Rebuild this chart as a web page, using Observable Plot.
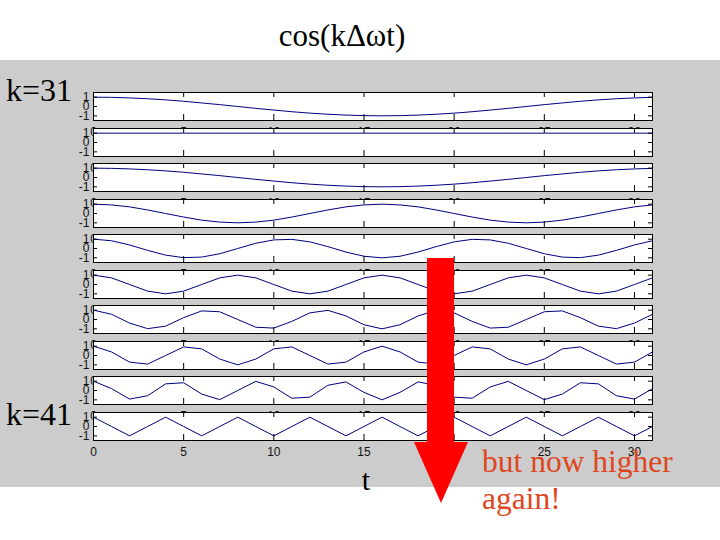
<!DOCTYPE html>
<html><head><meta charset="utf-8">
<script src="https://cdn.jsdelivr.net/npm/d3@7"></script>
<script src="https://cdn.jsdelivr.net/npm/@observablehq/plot@0.6"></script>
<style>
html,body{margin:0;padding:0;background:#fff;}
#wrap{position:relative;width:720px;height:540px;overflow:hidden;background:#fff;}
#gray{position:absolute;left:0;top:60px;width:720px;height:427px;background:#cccccc;}
.row{position:absolute;left:0;}
#overlay{position:absolute;left:0;top:0;}
</style></head><body>
<div id="wrap"><div id="gray"></div></div>
<script>
// ---- data ----
const t = [0,1,2,3,4,5,6,7,8,9,10,11,12,13,14,15,16,17,18,19,20,21,22,23,24,25,26,27,28,29,30,31];
const kValues = [31,32,33,34,35,36,37,38,39,40];
const k31 = [1,0.98,0.92,0.83,0.71,0.56,0.38,0.2,0,-0.2,-0.38,-0.56,-0.71,-0.83,-0.92,-0.98,-1,-0.98,-0.92,-0.83,-0.71,-0.56,-0.38,-0.2,0,0.2,0.38,0.56,0.71,0.83,0.92,0.98];
const k32 = [1,1,1,1,1,1,1,1,1,1,1,1,1,1,1,1,1,1,1,1,1,1,1,1,1,1,1,1,1,1,1,1];
const k33 = [1,0.98,0.92,0.83,0.71,0.56,0.38,0.2,0,-0.2,-0.38,-0.56,-0.71,-0.83,-0.92,-0.98,-1,-0.98,-0.92,-0.83,-0.71,-0.56,-0.38,-0.2,0,0.2,0.38,0.56,0.71,0.83,0.92,0.98];
const k34 = [1,0.92,0.71,0.38,0,-0.38,-0.71,-0.92,-1,-0.92,-0.71,-0.38,0,0.38,0.71,0.92,1,0.92,0.71,0.38,0,-0.38,-0.71,-0.92,-1,-0.92,-0.71,-0.38,0,0.38,0.71,0.92];
const k35 = [1,0.83,0.38,-0.2,-0.71,-0.98,-0.92,-0.56,0,0.56,0.92,0.98,0.71,0.2,-0.38,-0.83,-1,-0.83,-0.38,0.2,0.71,0.98,0.92,0.56,0,-0.56,-0.92,-0.98,-0.71,-0.2,0.38,0.83];
const k36 = [1,0.71,0,-0.71,-1,-0.71,0,0.71,1,0.71,0,-0.71,-1,-0.71,0,0.71,1,0.71,0,-0.71,-1,-0.71,0,0.71,1,0.71,0,-0.71,-1,-0.71,0,0.71];
const k37 = [1,0.56,-0.38,-0.98,-0.71,0.2,0.92,0.83,0,-0.83,-0.92,-0.2,0.71,0.98,0.38,-0.56,-1,-0.56,0.38,0.98,0.71,-0.2,-0.92,-0.83,0,0.83,0.92,0.2,-0.71,-0.98,-0.38,0.56];
const k38 = [1,0.38,-0.71,-0.92,0,0.92,0.71,-0.38,-1,-0.38,0.71,0.92,0,-0.92,-0.71,0.38,1,0.38,-0.71,-0.92,0,0.92,0.71,-0.38,-1,-0.38,0.71,0.92,0,-0.92,-0.71,0.38];
const k39 = [1,0.2,-0.92,-0.56,0.71,0.83,-0.38,-0.98,0,0.98,0.38,-0.83,-0.71,0.56,0.92,-0.2,-1,-0.2,0.92,0.56,-0.71,-0.83,0.38,0.98,0,-0.98,-0.38,0.83,0.71,-0.56,-0.92,0.2];
const k40 = [1,0,-1,0,1,0,-1,0,1,0,-1,0,1,0,-1,0,1,0,-1,0,1,0,-1,0,1,0,-1,0,1,0,-1,0];
const seriesList = [k31,k32,k33,k34,k35,k36,k37,k38,k39,k40];
const xTicks = [0,5,10,15,20,25,30];
const yTicks = [-1,0,1];
const titleText = "cos(kΔωt)";
const topLabel = "k=31", bottomLabel = "k=41";
const xLabel = "t";
const note1 = "but now higher", note2 = "again!";

// ---- layout ----
const wrap = document.getElementById("wrap");
const W = 720, mL = 93, mR = 68, frameH = 28, mT = 2, mB = 26;
const innerW = W - mL - mR;
seriesList.forEach((vals, i) => {
  const data = t.map((tt, j) => ({t: tt, v: vals[j]}));
  const svg = Plot.plot({
    width: W, height: frameH + mT + mB,
    marginLeft: mL, marginRight: mR, marginTop: mT, marginBottom: mB,
    style: {background: "transparent", fontFamily: "'Liberation Sans', Arial, sans-serif", fontSize: "12px", color: "#111", overflow: "visible"},
    x: {domain: [0, 31], label: null},
    y: {domain: [-1.5, 1.5], label: null},
    marks: [
      Plot.frame({fill: "white", stroke: null}),
      Plot.line(data, {x: "t", y: "v", stroke: "#000080", strokeWidth: 1}),
      Plot.tickX(xTicks, {x: d => d, insetTop: frameH - 6, stroke: "black"}),
      Plot.tickX(xTicks, {x: d => d, insetBottom: frameH - 5, stroke: "black"}),
      Plot.tickY(yTicks, {y: d => d, insetRight: innerW - 4, stroke: "black"}),
      Plot.tickY(yTicks, {y: d => d, insetLeft: innerW - 4, stroke: "black"}),
      Plot.frame({stroke: "black", fill: null}),
      Plot.axisX(xTicks, {tickSize: 0, tickPadding: 7, fontSize: 12, tickFormat: d => String(d)}),
      Plot.axisY(yTicks, {tickSize: 0, tickPadding: 4, fontSize: 12, tickFormat: d => String(d)})
    ]
  });
  svg.classList.add("row");
  svg.style.position = "absolute";
  svg.style.left = "0px";
  svg.style.top = (Math.round(92 + 35.55 * i) - mT) + "px";
  wrap.appendChild(svg);
});

// ---- annotations overlay ----
const ns = "http://www.w3.org/2000/svg";
const ov = document.createElementNS(ns, "svg");
ov.setAttribute("id", "overlay");
ov.setAttribute("width", 720); ov.setAttribute("height", 540);
ov.style.position = "absolute"; ov.style.left = "0"; ov.style.top = "0";
function txt(s, x, y, size, fill, anchor) {
  const e = document.createElementNS(ns, "text");
  e.setAttribute("x", x); e.setAttribute("y", y);
  e.setAttribute("font-family", "'Liberation Serif', 'Times New Roman', serif");
  e.setAttribute("font-size", size);
  e.setAttribute("fill", fill);
  if (anchor) e.setAttribute("text-anchor", anchor);
  e.textContent = s;
  ov.appendChild(e);
}
txt(titleText, 342, 46, 31, "#000", "middle");
txt(topLabel, 6, 101, 32, "#000");
txt(bottomLabel, 6, 425, 32, "#000");
txt(xLabel, 366, 490, 30, "#000", "middle");
const arrow = document.createElementNS(ns, "polygon");
arrow.setAttribute("points", "427,258 454,258 454,442 468,442 441,503 414,442 427,442");
arrow.setAttribute("fill", "#ff0000");
ov.appendChild(arrow);
txt(note1, 482, 472, 31.5, "#e0461e");
txt(note2, 482, 509, 31.5, "#e0461e");
wrap.appendChild(ov);
</script>
</body></html>
